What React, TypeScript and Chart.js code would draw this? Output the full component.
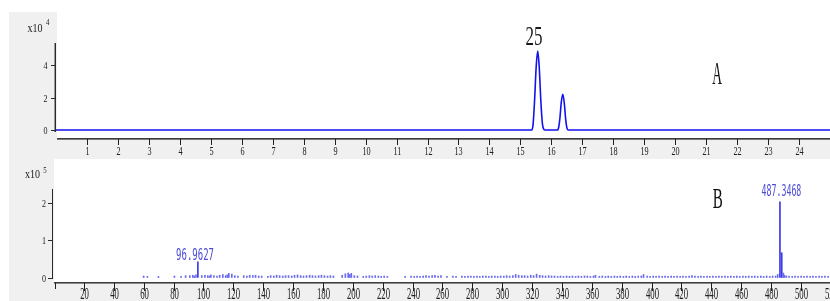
import React, { useEffect, useRef } from "react";
import { Chart, registerables } from "chart.js";
Chart.register(...registerables);

// ---------- Chromatogram (A) ----------
const rtMinutes = [0, 15.37, 15.41, 15.46, 15.51, 15.56, 15.61, 15.66, 15.71, 15.76, 15.8, 16.2, 16.24, 16.28, 16.32, 16.37, 16.42, 16.46, 16.5, 16.54, 25];
const ticIntensity = [0, 0, 0.35, 1.9, 3.9, 4.86, 3.8, 1.8, 0.4, 0.03, 0, 0, 0.2, 0.8, 1.7, 2.2, 1.6, 0.7, 0.15, 0, 0];
const rtTicks = [1, 2, 3, 4, 5, 6, 7, 8, 9, 10, 11, 12, 13, 14, 15, 16, 17, 18, 19, 20, 21, 22, 23, 24];
const ticYTicks = [0, 2, 4];
const ticExponent = "4";
const peakLabel = "25";
const panelALabel = "A";

// ---------- Mass spectrum (B) ----------
const msMz = [
  60.0, 62.5, 69.9, 80.6, 85.0, 88.1, 90.9, 92.9, 94.0, 95.0, 96.3, 98.9,
  101.0, 102.9, 104.1, 105.0, 107.0, 109.1, 110.9, 113.0, 114.9, 116.0, 117.0, 119.0, 121.0, 123.1, 127.0,
  129.1, 131.0, 133.1, 134.9, 137.0, 139.0, 143.1, 145.0, 147.1, 149.0, 151.0, 153.1, 155.0, 157.0, 159.1,
  161.0, 163.0, 165.1, 167.0, 169.0, 171.1, 173.0, 175.0, 177.1, 179.0, 181.0, 183.1, 185.0, 187.0, 192.9,
  195.0, 196.9, 198.0, 199.0, 201.0, 203.1, 207.0, 209.0, 211.1, 213.0, 215.0, 217.1, 219.0, 221.0, 223.1,
  235.0, 239.0, 241.1, 243.0, 245.0, 247.1, 249.0, 251.0, 253.1, 255.0, 257.1, 259.0, 263.0, 267.0, 269.1,
  273.0, 275.0, 277.1, 279.0, 281.0, 283.1, 285.0, 287.0, 289.1, 291.0, 293.0, 295.1, 297.0, 299.0, 301.1,
  303.0, 305.0, 307.1, 309.0, 311.0, 313.1, 315.0, 317.0, 319.1, 321.0, 323.0, 325.1, 327.0, 329.0, 331.1,
  333.0, 335.0, 337.1, 339.0, 341.0, 343.1, 345.0, 347.0, 349.1, 351.0, 353.0, 355.1, 357.0, 359.0, 361.1,
  362.4, 365.0, 367.0, 369.1, 371.0, 373.0, 375.1, 377.0, 379.0, 381.1, 383.0, 385.0, 387.1, 389.0, 391.0,
  393.1, 394.6, 397.0, 399.0, 401.1, 403.0, 405.0, 407.1, 409.0, 411.0, 413.1, 415.0, 417.0, 419.1, 421.0,
  423.0, 425.1, 427.0, 429.0, 431.1, 433.0, 435.0, 437.1, 439.0, 441.0, 443.1, 445.0, 447.0, 449.1, 451.0,
  453.0, 455.1, 457.0, 459.0, 461.1, 463.0, 465.0, 467.1, 469.0, 471.0, 473.1, 475.0, 477.0, 479.1, 481.0,
  483.0, 484.4, 485.9, 487.1, 488.2, 489.0, 490.2, 492.0,
  494.1, 496.0, 498.0, 500.1, 502.0, 504.0, 506.1, 508.0, 510.0, 512.1, 514.0, 516.0, 518.1,
];
const msIntensity = [
  0.04, 0.03, 0.03, 0.04, 0.03, 0.05, 0.05, 0.06, 0.04, 0.07, 0.42, 0.05,
  0.06, 0.05, 0.04, 0.07, 0.05, 0.04, 0.06, 0.08, 0.05, 0.07, 0.11, 0.09, 0.05, 0.04, 0.05,
  0.04, 0.06, 0.05, 0.06, 0.04, 0.04, 0.03, 0.05, 0.04, 0.06, 0.05, 0.04, 0.05, 0.05, 0.04,
  0.06, 0.07, 0.05, 0.04, 0.05, 0.06, 0.05, 0.04, 0.05, 0.06, 0.05, 0.04, 0.05, 0.04, 0.06,
  0.10, 0.12, 0.08, 0.11, 0.05, 0.04, 0.03, 0.04, 0.05, 0.04, 0.05, 0.04, 0.03, 0.04, 0.03,
  0.03, 0.04, 0.03, 0.04, 0.03, 0.04, 0.05, 0.04, 0.05, 0.06, 0.04, 0.05, 0.03, 0.04, 0.03,
  0.04, 0.03, 0.04, 0.04, 0.03, 0.04, 0.03, 0.04, 0.04, 0.03, 0.04, 0.04, 0.03, 0.04, 0.04,
  0.05, 0.04, 0.05, 0.08, 0.06, 0.05, 0.05, 0.04, 0.06, 0.05, 0.09, 0.06, 0.05, 0.04, 0.05,
  0.04, 0.04, 0.03, 0.04, 0.03, 0.04, 0.03, 0.04, 0.03, 0.04, 0.03, 0.04, 0.04, 0.03, 0.04,
  0.06, 0.03, 0.04, 0.03, 0.04, 0.03, 0.04, 0.03, 0.04, 0.03, 0.04, 0.03, 0.04, 0.03, 0.04,
  0.04, 0.08, 0.04, 0.03, 0.04, 0.03, 0.04, 0.03, 0.04, 0.03, 0.04, 0.03, 0.04, 0.03, 0.04,
  0.03, 0.04, 0.05, 0.04, 0.03, 0.04, 0.03, 0.04, 0.03, 0.04, 0.03, 0.04, 0.03, 0.04, 0.03,
  0.04, 0.03, 0.04, 0.03, 0.04, 0.03, 0.04, 0.03, 0.04, 0.03, 0.04, 0.03, 0.04, 0.03, 0.04,
  0.04, 0.08, 2.02, 0.66, 0.12, 0.06, 0.04, 0.04,
  0.03, 0.04, 0.03, 0.04, 0.03, 0.04, 0.03, 0.04, 0.03, 0.04, 0.03, 0.04, 0.03,
];
const mzTicks = [20, 40, 60, 80, 100, 120, 140, 160, 180, 200, 220, 240, 260, 280, 300, 320, 340, 360, 380, 400, 420, 440, 460, 480, 500, 520];
const msYTicks = [0, 1, 2];
const msExponent = "5";
const msPeakLabels = ["96.9627", "487.3468"];
const panelBLabel = "B";

const SERIF = '"Liberation Serif", "Times New Roman", serif';
const MONO = '"DejaVu Sans Mono", "Liberation Mono", monospace';

function drawText(
  ctx: CanvasRenderingContext2D,
  text: string,
  x: number,
  cy: number,
  size: number,
  sx: number,
  family: string,
  color: string,
  align: CanvasTextAlign = "center",
  cap = 0.66
) {
  ctx.save();
  ctx.font = `${size}px ${family}`;
  ctx.fillStyle = color;
  ctx.textBaseline = "alphabetic";
  ctx.textAlign = align;
  ctx.translate(x, cy + (size * cap) / 2);
  ctx.scale(sx, 1);
  ctx.fillText(text, 0, 0);
  ctx.restore();
}

const topDecor = {
  id: "topDecor",
  beforeDraw(chart: any) {
    const { ctx, chartArea: a } = chart;
    ctx.save();
    ctx.fillStyle = "#ffffff";
    ctx.fillRect(57, a.top, a.right - 57, a.bottom - a.top);
    ctx.restore();
  },
  afterDraw(chart: any) {
    const { ctx, chartArea: a } = chart;
    const xs = chart.scales.x;
    const ys = chart.scales.y;
    ctx.save();
    ctx.fillStyle = "#3c3c3c";
    ctx.fillRect(57, a.bottom, a.right - 57, 1);
    ctx.fillStyle = "#7a7a7a";
    ctx.fillRect(57, a.bottom + 1, a.right - 57, 1);
    ctx.fillStyle = "#202020";
    for (const t of rtTicks) {
      const px = Math.round(xs.getPixelForValue(t));
      ctx.fillRect(px, a.bottom + 1, 1, 6);
      drawText(ctx, String(t), px + 0.5, 150.5, 13, 0.63, SERIF, "#202020");
    }
    const yTop = Math.round(ys.getPixelForValue(5.35));
    const yBot = Math.round(ys.getPixelForValue(-0.12));
    ctx.fillStyle = "#9a9a9a";
    ctx.fillRect(54, yTop, 1, yBot - yTop);
    ctx.fillStyle = "#2a2a2a";
    ctx.fillRect(55, yTop, 1, yBot - yTop);
    for (const t of ticYTicks) {
      const py = Math.round(ys.getPixelForValue(t));
      ctx.fillStyle = "#2a2a2a";
      ctx.fillRect(51, py, 4, 1);
      drawText(ctx, String(t), 47.5, py + 0.5, 11, 0.73, SERIF, "#202020", "right");
    }
    drawText(ctx, "x10", 27.5, 27.5, 12.5, 0.8, SERIF, "#202020", "left");
    drawText(ctx, ticExponent, 46, 22.5, 8.5, 0.8, SERIF, "#202020", "left");
    drawText(ctx, peakLabel, xs.getPixelForValue(15.44), ys.getPixelForValue(5.78), 27, 0.63, SERIF, "#1a1a1a");
    drawText(ctx, panelALabel, xs.getPixelForValue(21.35), ys.getPixelForValue(3.45), 32, 0.42, SERIF, "#111111");
    ctx.restore();
  },
};

const bottomDecor = {
  id: "bottomDecor",
  beforeDraw(chart: any) {
    const { ctx, chartArea: a } = chart;
    ctx.save();
    ctx.fillStyle = "#ffffff";
    ctx.fillRect(a.left, a.top, a.right - a.left, a.bottom - a.top);
    ctx.restore();
  },
  afterDraw(chart: any) {
    const { ctx, chartArea: a } = chart;
    const xs = chart.scales.x;
    const ys = chart.scales.y;
    ctx.save();
    ctx.fillStyle = "#3c3c3c";
    ctx.fillRect(a.left, a.bottom, a.right - a.left, 1);
    ctx.fillStyle = "#8a8a8a";
    ctx.fillRect(a.left, a.bottom + 1, a.right - a.left, 1);
    ctx.fillStyle = "#202020";
    ctx.fillRect(Math.round(xs.getPixelForValue(0.6)), a.bottom + 1, 1, 6);
    for (const t of mzTicks) {
      const px = Math.round(xs.getPixelForValue(t));
      ctx.fillStyle = "#202020";
      ctx.fillRect(px, a.bottom + 1, 1, 8);
      drawText(ctx, String(t), px + 0.5, 134.8, 16.5, 0.53, SERIF, "#202020");
    }
    const yTop = Math.round(ys.getPixelForValue(2.37));
    const yBot = Math.round(ys.getPixelForValue(-0.03));
    ctx.fillStyle = "#2a2a2a";
    ctx.fillRect(52, yTop, 1, yBot - yTop);
    for (const t of msYTicks) {
      const py = Math.round(ys.getPixelForValue(t));
      ctx.fillStyle = "#2a2a2a";
      ctx.fillRect(48, py, 4, 1);
      drawText(ctx, String(t), 46, py + 0.5, 11, 0.73, SERIF, "#202020", "right");
    }
    drawText(ctx, "x10", 25, 15, 12.5, 0.8, SERIF, "#202020", "left");
    drawText(ctx, msExponent, 43.3, 11.5, 8.5, 0.8, SERIF, "#202020", "left");
    drawText(ctx, msPeakLabels[0], xs.getPixelForValue(94.4), ys.getPixelForValue(0.6), 15, 0.6, MONO, "#4b4bd6", "center", 0.73);
    drawText(ctx, msPeakLabels[1], xs.getPixelForValue(486.9), ys.getPixelForValue(2.31), 15, 0.55, MONO, "#4b4bd6", "center", 0.73);
    drawText(ctx, panelBLabel, xs.getPixelForValue(444.2), ys.getPixelForValue(2.11), 30, 0.5, SERIF, "#111111");
    ctx.restore();
  },
};

export default function App() {
  const topRef = useRef<HTMLCanvasElement>(null);
  const botRef = useRef<HTMLCanvasElement>(null);

  useEffect(() => {
    const top = new Chart(topRef.current as HTMLCanvasElement, {
      type: "line",
      data: {
        datasets: [
          {
            data: rtMinutes.map((x, i) => ({ x, y: ticIntensity[i] })),
            borderColor: "#1212ee",
            borderWidth: 1.6,
            pointRadius: 0,
            fill: false,
            cubicInterpolationMode: "monotone",
          },
        ],
      },
      options: {
        animation: false,
        responsive: false,
        devicePixelRatio: 1,
        events: [],
        layout: { padding: { left: 56, right: 0, top: 0, bottom: 21 } },
        plugins: { legend: { display: false }, tooltip: { enabled: false } },
        scales: {
          x: { type: "linear", min: 0, max: 25, display: false },
          y: { type: "linear", min: -0.4923, max: 8.0, display: false },
        },
      },
      plugins: [topDecor],
    } as any);

    const bottom = new Chart(botRef.current as HTMLCanvasElement, {
      type: "bar",
      data: {
        datasets: [
          {
            data: msMz.map((x, i) => ({ x, y: msIntensity[i] })),
            backgroundColor: msIntensity.map((v) => (v >= 0.3 ? "#3b3be6" : "#6a6aee")),
            borderWidth: 0,
            barThickness: 1,
          },
        ],
      },
      options: {
        animation: false,
        responsive: false,
        devicePixelRatio: 1,
        events: [],
        layout: { padding: { left: 54, right: 0, top: 0, bottom: 19 } },
        plugins: { legend: { display: false }, tooltip: { enabled: false } },
        scales: {
          x: { type: "linear", min: 0, max: 519.4, offset: false, display: false },
          y: { type: "linear", min: -0.12, max: 3.16, display: false },
        },
      },
      plugins: [bottomDecor],
    } as any);

    return () => {
      top.destroy();
      bottom.destroy();
    };
  }, []);

  return (
    <div style={{ position: "fixed", left: 0, top: 0, width: 830, height: 301, background: "#ffffff", overflow: "hidden" }}>
      <div style={{ position: "absolute", left: 9, top: 12, width: 821, height: 289, background: "#f0f0f0" }} />
      <canvas ref={topRef} width={830} height={159} style={{ position: "absolute", left: 0, top: 0, width: 830, height: 159 }} />
      <canvas ref={botRef} width={830} height={142} style={{ position: "absolute", left: 0, top: 159, width: 830, height: 142 }} />
    </div>
  );
}
